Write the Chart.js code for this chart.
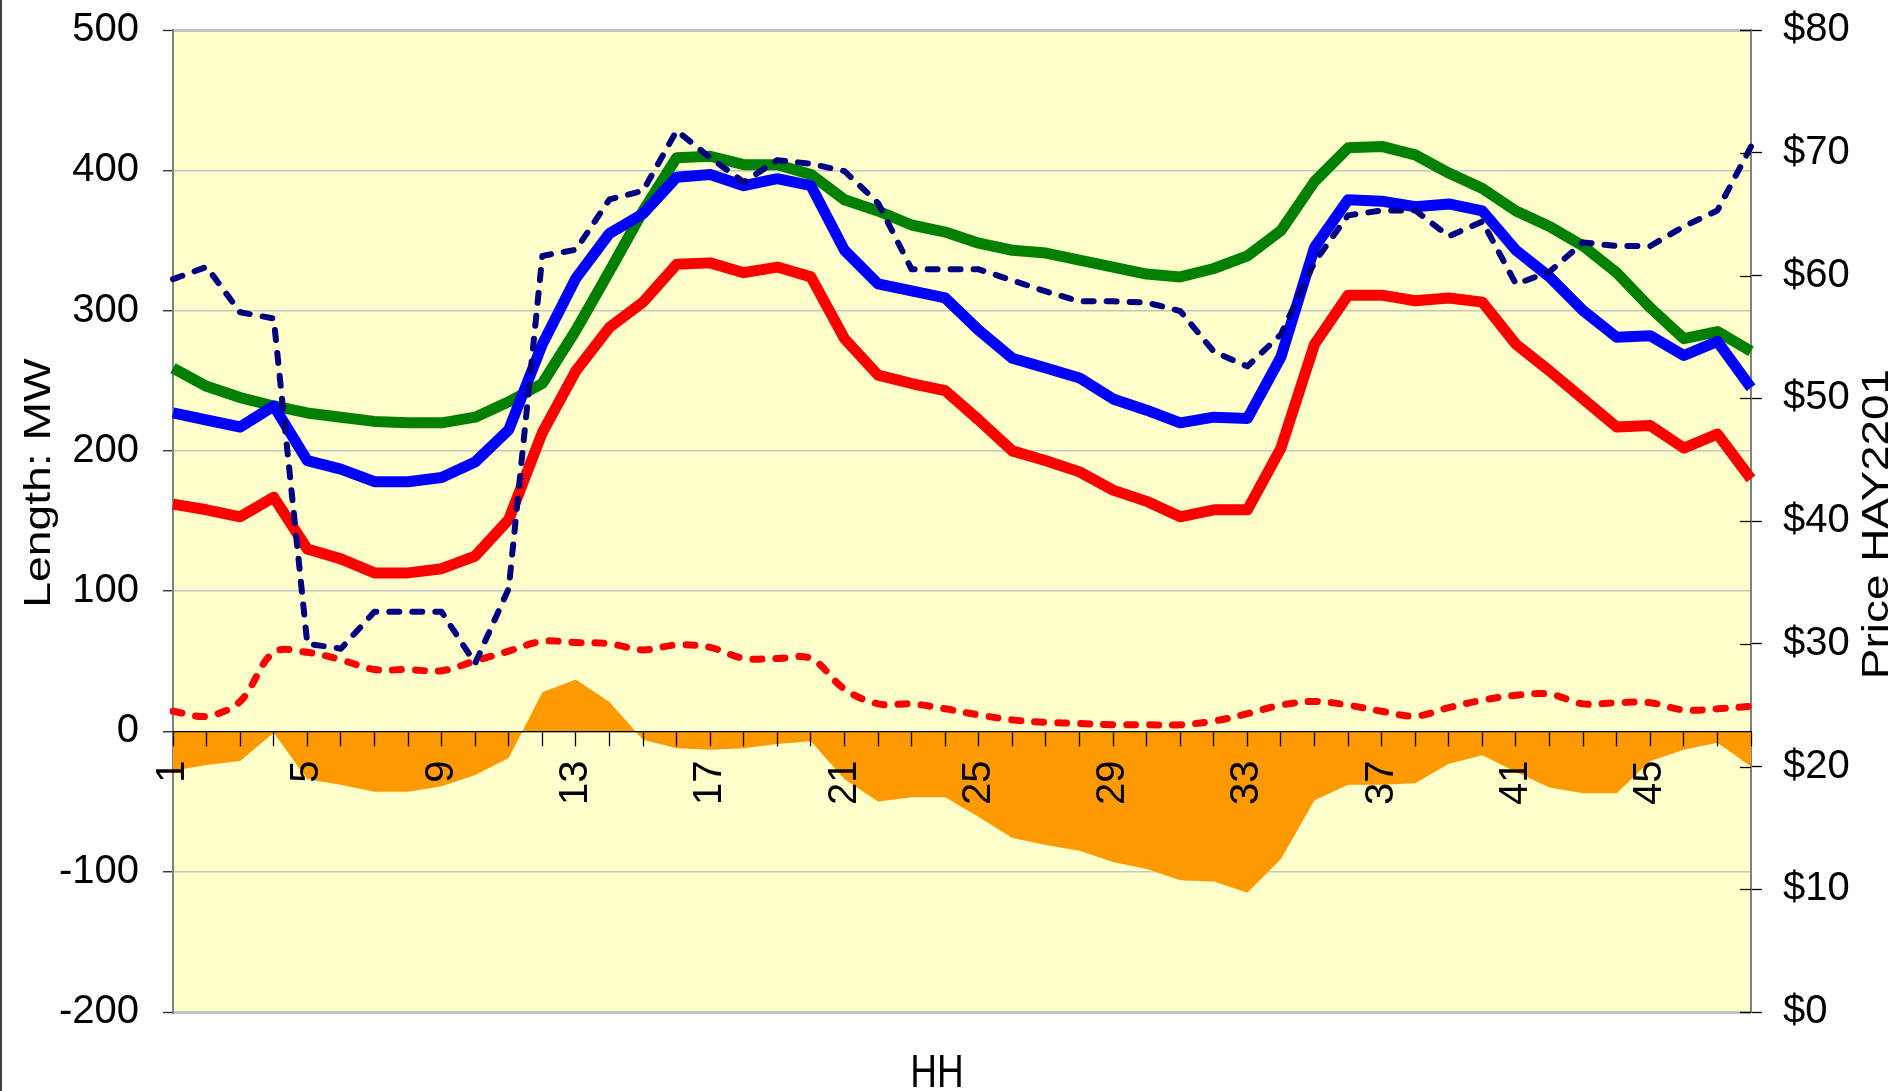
<!DOCTYPE html>
<html><head><meta charset="utf-8">
<script src="https://cdn.jsdelivr.net/npm/chart.js@4.4.1/dist/chart.umd.min.js"></script>
<style>
html,body{margin:0;padding:0;background:#fff;}
canvas{display:block;}
</style></head><body>
<canvas id="c" width="1895" height="1091"></canvas>
<script>
// ---- data ----
const categories = ['1','2','3','4','5','6','7','8','9','10','11','12','13','14','15','16','17','18','19','20','21','22','23','24','25','26','27','28','29','30','31','32','33','34','35','36','37','38','39','40','41','42','43','44','45','46','47','48'];
const greenMW = [259,246,238,232,227,224,221,220,220,224,235,248,286,328,371,409,410,404,404,397,379,371,361,356,348,343,341,336,331,326,324,330,339,357,392,416,417,411,398,387,371,360,346,327,302,280,285,271];
const blueMW  = [227,222,217,232,193,187,178,178,181,192,215,276,323,355,369,395,397,389,394,389,343,319,314,309,286,266,259,252,237,229,220,224,223,267,345,379,378,374,376,371,343,324,300,281,282,268,278,245];
const redMW   = [162,158,153,167,130,123,113,113,116,125,151,213,257,288,306,333,334,327,331,324,280,254,248,243,222,200,193,185,172,164,153,158,158,202,276,311,311,307,309,306,276,257,237,217,218,202,212,180];
const netMW   = [-28,-24,-21,-1,-34,-38,-43,-43,-39,-31,-19,28,37,21,-6,-12,-13,-12,-9,-7,-34,-50,-47,-47,-61,-76,-81,-85,-93,-98,-106,-107,-115,-91,-49,-38,-38,-37,-23,-17,-29,-40,-44,-44,-21,-13,-8,-25];
const priceHAY = [59.7,60.7,57.0,56.5,30.0,29.6,32.6,32.6,32.6,28.4,34.5,61.6,62.1,66.2,66.9,71.8,69.6,67.6,69.4,69.1,68.5,65.9,60.5,60.5,60.5,59.6,58.7,57.9,57.9,57.8,57.1,53.8,52.6,55.2,61.1,64.9,65.3,65.3,63.2,64.4,59.3,60.3,62.7,62.4,62.4,64.0,65.3,70.5];
const priceRed = [24.5,24.1,25.3,29.3,29.3,28.7,27.9,27.9,27.8,28.6,29.4,30.2,30.1,30.0,29.5,29.9,29.7,28.8,28.8,28.8,26.3,25.1,25.1,24.7,24.2,23.8,23.6,23.5,23.4,23.4,23.4,23.7,24.3,25.0,25.3,25.0,24.5,24.1,24.8,25.4,25.8,25.9,25.1,25.2,25.2,24.6,24.7,24.9];
const leftTitle = 'Length: MW';
const rightTitle = 'Price HAY2201';
const xTitle = 'HH';

// ---- styling ----
const REG = "'Liberation Sans',Arial,sans-serif";

const bgPlugin = {
  id: 'bg',
  beforeDraw(chart) {
    const {ctx, chartArea: a, width, height} = chart;
    ctx.save();
    ctx.fillStyle = '#ffffff';
    ctx.fillRect(0, 0, width, height);
    ctx.fillStyle = '#404040';
    ctx.fillRect(0, 0, 2, height);
    ctx.fillStyle = '#FFFFCC';
    ctx.fillRect(a.left, a.top, a.right - a.left, a.bottom - a.top);
    ctx.restore();
  }
};

const titlesPlugin = {
  id: 'titles',
  afterDraw(chart) {
    const {ctx, chartArea: a} = chart;
    const r = chart.scales.y1;
    ctx.save();
    // inner half of the crossing tick marks on the right axis
    ctx.strokeStyle = '#000';
    ctx.lineWidth = 1.3;
    r.ticks.forEach(t => {
      const y = Math.round(r.getPixelForValue(t.value)) + 0.5;
      ctx.beginPath();
      ctx.moveTo(a.right - 11, y);
      ctx.lineTo(a.right, y);
      ctx.stroke();
    });
    ctx.fillStyle = '#000';
    ctx.font = '37px ' + REG;
    ctx.textBaseline = 'alphabetic';
    ctx.textAlign = 'center';
    // left title
    ctx.save();
    ctx.translate(50, (a.top + a.bottom) / 2 - 38);
    ctx.rotate(-Math.PI / 2);
    ctx.scale(1.25, 1);
    ctx.fillText(leftTitle, 0, 0);
    ctx.restore();
    // right title
    ctx.save();
    ctx.translate(1888, (a.top + a.bottom) / 2 + 3);
    ctx.rotate(-Math.PI / 2);
    ctx.scale(1.24, 1);
    ctx.fillText(rightTitle, 0, 0);
    ctx.restore();
    // x title
    ctx.save();
    ctx.translate((a.left + a.right) / 2 - 25, 1087);
    ctx.scale(1, 1.25);
    ctx.fillText(xTitle, 0, 0);
    ctx.restore();
    ctx.restore();
  }
};

new Chart(document.getElementById('c'), {
  type: 'line',
  data: {
    labels: categories,
    datasets: [
      {label: 'Price HAY2201', data: priceHAY, yAxisID: 'y1', borderColor: '#000080', borderWidth: 6,
       borderDash: [10, 13], borderCapStyle: 'round', borderJoinStyle: 'round', tension: 0, fill: false, order: 1},
      {label: 'Price (red)', data: priceRed, yAxisID: 'y1', borderColor: '#FF0000', borderWidth: 7,
       borderDash: [9, 14], borderCapStyle: 'round', borderJoinStyle: 'round', tension: 0.35, fill: false, order: 2},
      {label: 'Blue', data: blueMW, yAxisID: 'y', borderColor: '#0000FF', borderWidth: 11,
       borderJoinStyle: 'round', tension: 0, fill: false, order: 3},
      {label: 'Green', data: greenMW, yAxisID: 'y', borderColor: '#008000', borderWidth: 11,
       borderJoinStyle: 'round', tension: 0, fill: false, order: 4},
      {label: 'Red', data: redMW, yAxisID: 'y', borderColor: '#FF0000', borderWidth: 11,
       borderJoinStyle: 'round', tension: 0, fill: false, order: 5},
      {label: 'Net', data: netMW, yAxisID: 'y', borderColor: 'rgba(0,0,0,0)', borderWidth: 0,
       backgroundColor: '#FF9900', fill: 'origin', tension: 0, order: 6}
    ]
  },
  options: {
    responsive: false,
    animation: false,
    devicePixelRatio: 1,
    layout: {autoPadding: false, padding: {top: 30, left: 0, right: 0, bottom: 79}},
    elements: {point: {radius: 0, hoverRadius: 0}},
    plugins: {legend: {display: false}, tooltip: {enabled: false}, title: {display: false}},
    scales: {
      x: {
        type: 'category', position: {y: 0}, offset: false,
        grid: {drawOnChartArea: false, drawTicks: true, tickLength: 14, tickColor: '#000', tickWidth: 1.3, z: 1},
        border: {display: true, color: '#000', width: 1.3, z: 1},
        ticks: {autoSkip: false, maxRotation: 90, minRotation: 90, padding: 15, color: '#000', z: 1,
                font: {family: REG, size: 40},
                callback: (v, i) => (i % 4 === 0 ? categories[i] : '')},
        afterFit: s => { s.height = 0; s.paddingLeft = 0; s.paddingRight = 0; }
      },
      y: {
        position: 'left', min: -200, max: 500,
        ticks: {stepSize: 100, padding: 24, color: '#000', font: {family: REG, size: 40}},
        grid: {color: '#c4c4c4', lineWidth: c => (c.tick && (c.tick.value === 500 || c.tick.value === -200)) ? 3 : 1.5,
               tickLength: 10, tickColor: '#222', tickWidth: 1.3},
        border: {color: '#808080', width: 2},
        afterFit: s => { s.width = 173; s.paddingTop = 0; s.paddingBottom = 0; }
      },
      y1: {
        position: 'right', min: 0, max: 80,
        ticks: {stepSize: 10, padding: 21, color: '#000', font: {family: REG, size: 40}, callback: v => '$' + v},
        grid: {drawOnChartArea: false, tickLength: 11, tickColor: '#000', tickWidth: 1.3},
        border: {color: '#808080', width: 2},
        afterFit: s => { s.width = 144; s.paddingTop = 0; s.paddingBottom = 0; }
      }
    }
  },
  plugins: [bgPlugin, titlesPlugin]
});
</script>
</body></html>
